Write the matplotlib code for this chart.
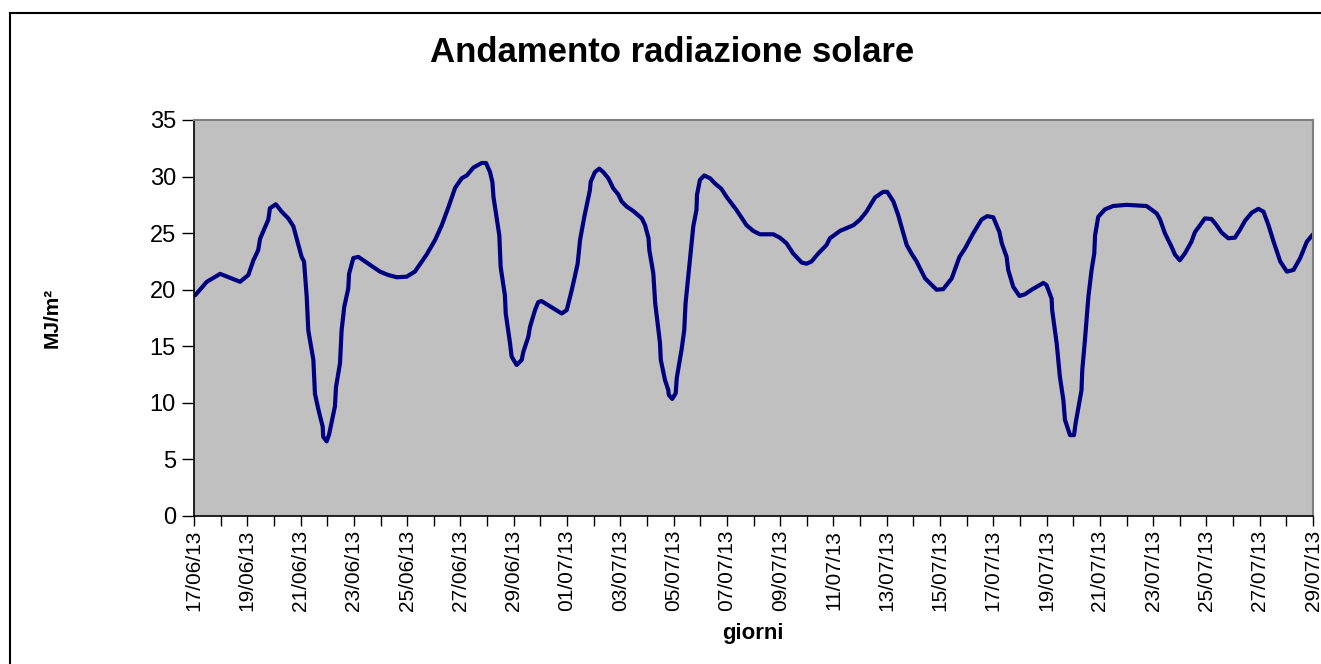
import numpy as np
import pandas as pd
import matplotlib
matplotlib.use('Agg')
import matplotlib.pyplot as plt
import matplotlib.dates as mdates
from matplotlib.lines import Line2D

plt.rcParams['font.family'] = ['Liberation Sans', 'DejaVu Sans']

# day offset from 17/06/2013 and daily solar radiation (MJ/m2)
giorno = [0.04, 0.48, 0.98, 1.73, 2.04, 2.23, 2.41, 2.48, 2.79, 2.85, 3.07, 3.29, 3.54, 3.73,
          4.04, 4.13, 4.23, 4.29, 4.48, 4.54, 4.67, 4.83, 4.85, 4.98, 5.07, 5.29, 5.33, 5.48,
          5.54, 5.64, 5.79, 5.82, 5.98, 6.17, 6.48, 6.98, 7.29, 7.61, 7.98, 8.29, 8.73, 9.05,
          9.30, 9.55, 9.80, 10.05, 10.24, 10.49, 10.80, 10.96, 11.11, 11.20, 11.24, 11.46,
          11.51, 11.67, 11.70, 11.86, 11.92, 12.11, 12.30, 12.36, 12.55, 12.61, 12.80, 12.92,
          13.04, 13.49, 13.80, 13.99, 14.15, 14.24, 14.40, 14.49, 14.65, 14.86, 14.89, 15.05,
          15.21, 15.36, 15.55, 15.74, 15.93, 16.05, 16.24, 16.49, 16.81, 16.93, 17.06, 17.09,
          17.24, 17.31, 17.49, 17.52, 17.68, 17.80, 17.82, 17.95, 18.08, 18.12, 18.30, 18.40,
          18.45, 18.55, 18.74, 18.86, 18.88, 18.99, 19.15, 19.37, 19.55, 19.80, 19.99, 20.36,
          20.74, 20.99, 21.24, 21.74, 21.99, 22.24, 22.49, 22.81, 22.99, 23.18, 23.43, 23.74,
          23.87, 24.25, 24.75, 25.00, 25.24, 25.56, 25.87, 26.02, 26.25, 26.43, 26.75, 26.93,
          27.12, 27.44, 27.87, 28.12, 28.44, 28.73, 28.94, 29.25, 29.56, 29.77, 30.00, 30.23,
          30.32, 30.50, 30.56, 30.75, 30.98, 31.19, 31.44, 31.88, 32.00, 32.19, 32.21, 32.38,
          32.50, 32.63, 32.69, 32.88, 33.03, 33.09, 33.31, 33.34, 33.44, 33.57, 33.69, 33.79,
          33.82, 33.94, 34.19, 34.50, 35.00, 35.75, 36.13, 36.26, 36.44, 36.69, 36.82, 37.00,
          37.19, 37.44, 37.57, 37.76, 37.94, 38.19, 38.38, 38.57, 38.82, 39.07, 39.26, 39.45,
          39.70, 39.95, 40.14, 40.33, 40.52, 40.77, 41.02, 41.27, 41.52, 41.77, 42.00]
radiazione = [19.5, 20.7, 21.4, 20.7, 21.3, 22.6, 23.5, 24.5, 26.2, 27.2, 27.55, 26.9, 26.3, 25.6,
              22.9, 22.5, 19.4, 16.4, 13.8, 10.8, 9.4, 7.9, 7.0, 6.6, 7.2, 9.7, 11.4, 13.5,
              16.4, 18.5, 20.1, 21.4, 22.8, 22.9, 22.4, 21.6, 21.3, 21.1, 21.15, 21.6, 23.1, 24.4,
              25.7, 27.3, 29.0, 29.85, 30.1, 30.8, 31.2, 31.2, 30.4, 29.5, 28.2, 24.8,
              22.0, 19.5, 17.9, 15.3, 14.1, 13.35, 13.8, 14.5, 15.85, 16.7, 18.2, 18.9,
              19.0, 18.35, 17.9, 18.2, 19.7, 20.6, 22.3, 24.4, 26.45, 28.8, 29.55, 30.4,
              30.7, 30.4, 29.85, 28.95, 28.4, 27.8, 27.35, 26.95, 26.3, 25.7, 24.55, 23.5,
              21.45, 18.8, 15.3, 13.8, 12.0, 11.15, 10.7, 10.35, 10.85, 12.2, 14.7, 16.4,
              18.8, 21.15, 25.6, 27.05, 28.4, 29.7, 30.1, 29.85, 29.4, 28.9, 28.2, 27.05,
              25.7, 25.2, 24.9, 24.9, 24.6, 24.1, 23.2, 22.4, 22.3, 22.5, 23.2, 23.95,
              24.55, 25.2, 25.7, 26.2, 26.9, 28.15, 28.65, 28.65, 27.8, 26.6, 23.95, 23.2,
              22.5, 21.0, 20.0, 20.05, 21.0, 22.9, 23.65, 25.0, 26.2, 26.5, 26.4, 25.1,
              24.1, 22.9, 21.75, 20.25, 19.45, 19.6, 20.0, 20.6, 20.4, 19.2, 18.2, 15.25,
              12.3, 10.25, 8.5, 7.15, 7.15, 8.2, 11.1, 12.9, 15.55, 19.4, 21.75, 23.2,
              24.8, 26.45, 27.1, 27.4, 27.5, 27.4, 26.75, 26.2, 25.0, 23.8, 23.1, 22.6,
              23.2, 24.25, 25.1, 25.7, 26.3, 26.25, 25.7, 25.05, 24.55, 24.6, 25.3, 26.1,
              26.8, 27.15, 26.9, 25.7, 24.25, 22.5, 21.6, 21.75, 22.8, 24.25, 24.9]

inizio = pd.Timestamp('2013-06-17')
fine = pd.Timestamp('2013-07-29')
date = inizio + pd.to_timedelta(giorno, unit='D')

fig = plt.figure(figsize=(13.21, 6.64), dpi=100)
ax = fig.add_axes([194/1321, 1-516/664, (1313-194)/1321, (516-120)/664])
ax.set_facecolor('#C0C0C0')

ax.plot(date, radiazione, color='#000080', linewidth=3.0, solid_joinstyle='round',
        solid_capstyle='round')

ax.set_xlim(inizio, fine)
ax.set_ylim(0, 35)
ax.set_yticks(np.arange(0, 36, 5))

ax.set_xticks(pd.date_range(inizio, fine, freq='2D'))
ax.set_xticks(pd.date_range(inizio, fine, freq='D'), minor=True)
ax.xaxis.set_major_formatter(mdates.DateFormatter('%d/%m/%y'))
plt.setp(ax.get_xticklabels(), rotation=90)

ax.tick_params(axis='x', which='both', direction='out', length=7, width=1, colors='black',
               labelsize=15, pad=3)
ax.tick_params(axis='y', direction='out', length=9, width=1, labelsize=17, pad=4)

for s in ['left', 'bottom']:
    ax.spines[s].set_color('black')
    ax.spines[s].set_linewidth(1.2)
for s in ['top', 'right']:
    ax.spines[s].set_color('#808080')
    ax.spines[s].set_linewidth(1.5)

fig.text(672/1321, 1-52/664, 'Andamento radiazione solare', ha='center', va='center',
         fontsize=25, fontweight='bold')
fig.text(753/1321, 1-634/664, 'giorni', ha='center', va='center', fontsize=16, fontweight='bold')
fig.text(52/1321, 1-318/664, 'MJ/m²', ha='center', va='center', rotation=90,
         fontsize=15, fontweight='bold')

# outer chart border
fig.add_artist(Line2D([10/1321, 10/1321], [0, 1-13/664], color='black', linewidth=1.5))
fig.add_artist(Line2D([10/1321, 1], [1-13/664, 1-13/664], color='black', linewidth=1.5))

fig.savefig('out.png', dpi=100)
